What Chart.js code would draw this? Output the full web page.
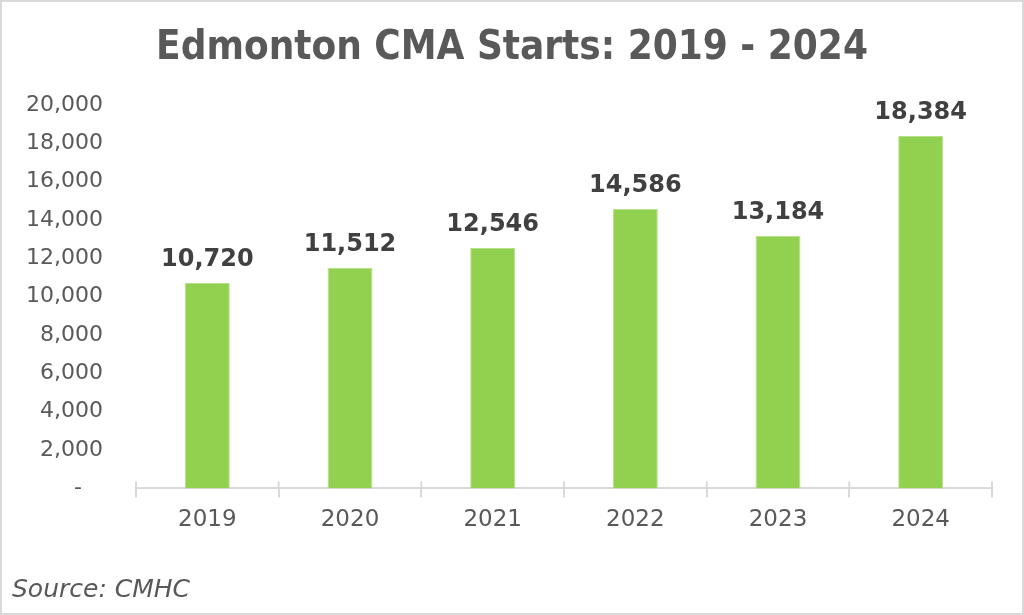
<!DOCTYPE html>
<html lang="en">
<head>
    <meta charset="UTF-8">
    <title>Edmonton CMA Starts</title>
    <script src="https://cdn.jsdelivr.net/npm/chart.js"></script>
    <style>
        html, body { margin: 0; padding: 0; background: #fff; }
        #wrap { width: 1024px; height: 615px; position: relative; }
    </style>
</head>
<body>
    <div id="wrap"><canvas id="barChart"></canvas></div>
    <script>
        // chart data
        var years = ['2019', '2020', '2021', '2022', '2023', '2024'];
        var starts = [10720, 11512, 12546, 14586, 13184, 18384];
        var titleText = 'Edmonton CMA Starts: 2019 - 2024';
        var sourceText = 'Source: CMHC';

        var grey = '#595959';

        // title, source, frame and value labels
        var extras = {
            id: 'extras',
            afterDraw: function (chart) {
                var ctx = chart.ctx;
                ctx.save();
                ctx.strokeStyle = '#d9d9d9';
                ctx.lineWidth = 2;
                ctx.strokeRect(1, 1, chart.width - 2, chart.height - 2);

                ctx.fillStyle = grey;
                ctx.textAlign = 'center';
                ctx.textBaseline = 'middle';
                ctx.font = 'bold 40px "DejaVu Sans Condensed", "DejaVu Sans", sans-serif';
                ctx.fillText(titleText, chart.width / 2, 49);

                ctx.textAlign = 'left';
                ctx.font = 'italic 25px "DejaVu Sans", sans-serif';
                ctx.fillText(sourceText, 12, 590);

                var meta = chart.getDatasetMeta(0);
                ctx.fillStyle = '#404040';
                ctx.textAlign = 'center';
                ctx.textBaseline = 'bottom';
                ctx.font = 'bold 24px "DejaVu Sans", sans-serif';
                meta.data.forEach(function (bar, i) {
                    ctx.fillText(starts[i].toLocaleString('en-US'), bar.x, bar.y - 11);
                });

                // small tick marks poking above the axis line
                var x = chart.scales.x;
                ctx.strokeStyle = '#d9d9d9';
                ctx.lineWidth = 2;
                for (var i = 0; i <= years.length; i++) {
                    var px = x.left + (x.right - x.left) * i / years.length;
                    ctx.beginPath();
                    ctx.moveTo(px, chart.chartArea.bottom - 7);
                    ctx.lineTo(px, chart.chartArea.bottom);
                    ctx.stroke();
                }
                ctx.restore();
            }
        };

        var ctxBar = document.getElementById('barChart').getContext('2d');
        new Chart(ctxBar, {
            type: 'bar',
            data: {
                labels: years,
                datasets: [{
                    data: starts,
                    backgroundColor: '#92d050',
                    borderColor: '#b5e08a',
                    borderWidth: 1,
                    categoryPercentage: 1,
                    barPercentage: 0.315
                }]
            },
            options: {
                responsive: true,
                maintainAspectRatio: false,
                animation: false,
                layout: { padding: { top: 105, right: 32, bottom: 72, left: 0 } },
                plugins: {
                    legend: { display: false },
                    title: { display: false },
                    tooltip: { enabled: false }
                },
                scales: {
                    x: {
                        grid: {
                            display: true,
                            offset: true,
                            drawOnChartArea: false,
                            color: '#d9d9d9',
                            lineWidth: 2,
                            tickLength: 9
                        },
                        border: { color: '#d9d9d9', width: 2 },
                        ticks: {
                            color: grey,
                            padding: 9,
                            font: { family: '"DejaVu Sans", sans-serif', size: 23 }
                        }
                    },
                    y: {
                        min: 0,
                        max: 20000,
                        grid: { display: false },
                        border: { display: false },
                        afterFit: function (scale) { scale.width = 136; },
                        ticks: {
                            stepSize: 2000,
                            color: grey,
                            padding: 25,
                            font: { family: '"DejaVu Sans", sans-serif', size: 22 },
                            callback: function (v) {
                                return v === 0 ? '-   ' : v.toLocaleString('en-US');
                            }
                        }
                    }
                }
            },
            plugins: [extras]
        });
    </script>
</body>
</html>
